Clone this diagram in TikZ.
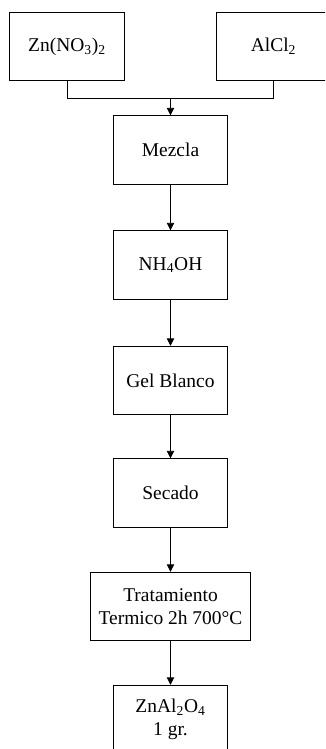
\documentclass[tikz,border=0pt]{standalone}
\usepackage{fontspec}
\setmainfont{Liberation Serif}
\usepackage{tikz}
\usetikzlibrary{arrows.meta,positioning}

\begin{document}
\begin{tikzpicture}[x=0.75pt,y=-0.75pt,every node/.style={draw,line width=0.6pt,font=\fontsize{14.6}{16.8}\selectfont,align=center,minimum width=86pt,minimum height=51.5pt,inner sep=2pt},>={Triangle[length=5.5pt,width=5.5pt]},line width=0.6pt]
\clip (0,0) rectangle (325,749);
\node (z) at (67,46.5) {Zn(NO\textsubscript{3})\textsubscript{2}};
\node (al) at (273.5,46.5) {AlCl\textsubscript{2}};
\node (m) at (170.5,150) {Mezcla};
\node (n) at (170.5,265) {NH\textsubscript{4}OH};
\node (g) at (170.5,380.5) {Gel Blanco};
\node (s) at (170.5,493) {Secado};
\node[minimum width=120.5pt] (t) at (170.5,606.5) {Tratamiento\\Termico 2h 700°C};
\node (p) at (170.5,719.5) {ZnAl\textsubscript{2}O\textsubscript{4}\\1 gr.};
\coordinate (j) at (170.5,98);
\draw (z.south) |- (j);\draw (al.south) |- (j);
\draw[->] (j)--(m);\draw[->] (m)--(n);\draw[->] (n)--(g);
\draw[->] (g)--(s);\draw[->] (s)--(t);\draw[->] (t)--(p);
\end{tikzpicture}
\end{document}
